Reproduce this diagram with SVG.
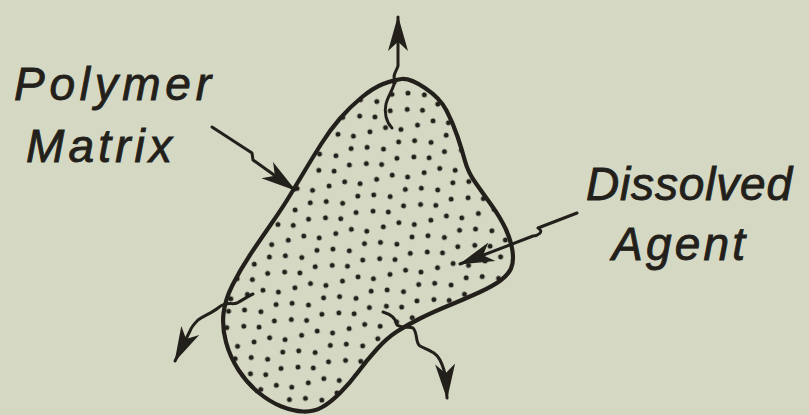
<svg xmlns="http://www.w3.org/2000/svg" width="809" height="415" viewBox="0 0 809 415">
  <defs>
    <style>
      .label { font-family: "Liberation Sans", Arial, sans-serif; font-style: italic; font-size: 46px; fill: #231f1b; stroke: #231f1b; stroke-width: 0.9; }
      .outline { fill: none; stroke: #231f1b; stroke-width: 4.2; stroke-linejoin: round; }
      .arrow { fill: none; stroke: #231f1b; stroke-width: 3; stroke-linecap: round; stroke-linejoin: round; marker-end: url(#head); }
    </style>
    <marker id="head" markerUnits="userSpaceOnUse" markerWidth="40" markerHeight="30" viewBox="-32 -11 34 22" refX="0" refY="0" orient="auto">
      <path d="M1,0 L-29,-8.5 L-21,0 L-29,8.5 Z" fill="#231f1b"/>
    </marker>
    <pattern id="dots" patternUnits="userSpaceOnUse" width="48" height="48" patternTransform="rotate(-8)">
      <g fill="#231f1b">
        <circle cx="7" cy="5" r="2.5"/>
        <circle cx="23" cy="9" r="2.5"/>
        <circle cx="39" cy="4" r="2.5"/>
        <circle cx="4" cy="21" r="2.5"/>
        <circle cx="19" cy="24" r="2.5"/>
        <circle cx="35" cy="20" r="2.5"/>
        <circle cx="12" cy="38" r="2.5"/>
        <circle cx="28" cy="36" r="2.5"/>
        <circle cx="43" cy="40" r="2.5"/>
      </g>
    </pattern>
    <path id="blobShape" d="M383,84 Q393,80 401.5,79 Q410,78 425,88 Q440,98 446.5,110.5 Q453,123 457.5,136.5 Q462,150 465,161 Q468,172 475,182 Q482,192 491,204.5 Q500,217 505.5,228.5 Q511,240 512.5,251 Q514,262 511,268.5 Q508,275 500.5,280.5 Q493,286 480,292 Q467,298 450,305 Q433,312 420,318.5 Q407,325 397,331.5 Q387,338 377,349 Q367,360 358.5,371.5 Q350,383 340,393 Q330,403 321.5,407.5 Q313,412 303,411.5 Q293,411 281.5,406.5 Q270,402 258.5,392.5 Q247,383 238.5,370 Q230,357 226,342 Q222,327 223.5,313.5 Q225,300 232.5,285 Q240,270 250,255 Q260,240 271.5,223.5 Q283,207 290.5,194.5 Q298,182 305.5,169.5 Q313,157 321.5,143.5 Q330,130 340,118.5 Q350,107 361.5,97.5 Q373,88 383,84 Z"/>
  </defs>
  <rect width="809" height="415" fill="#d5d9c4"/>

  <g id="polymer-matrix">
    <use href="#blobShape" fill="url(#dots)"/>
    <use href="#blobShape" class="outline"/>
  </g>

  <g id="label-polymer-matrix">
    <text class="label" x="14" y="100" textLength="197" lengthAdjust="spacing">Polymer</text>
    <text class="label" x="26" y="162" textLength="146" lengthAdjust="spacing">Matrix</text>
  </g>

  <g id="label-dissolved-agent">
    <text class="label" x="586" y="200" textLength="206" lengthAdjust="spacing">Dissolved</text>
    <text class="label" x="612" y="260" textLength="133" lengthAdjust="spacing">Agent</text>
  </g>

  <g id="connectors">
    <path class="arrow" d="M212,127 L252,153 L253,160 L295,190"/>
    <path class="arrow" d="M577,213 L538,228 C545,232 537,236 533,236 L460,264"/>
    <path class="arrow" d="M392,128 C386,122 384,112 386,104 C388,96 395,86 395,80 C392,76 396,72 398,66 L398,17"/>
    <path class="arrow" d="M253,294 C248,296 243,300 237,303 C232,305 226,301 218,308 C212,313 205,315 198,320 C193,325 191,328 190,331 L175,361"/>
    <path class="arrow" d="M383,312 C390,314 396,318 397,325 C403,329 410,326 413,328 C418,333 415,343 420,346 C428,350 436,352 440,360 C443,366 445,372 446,380 L447,398"/>
  </g>
</svg>
